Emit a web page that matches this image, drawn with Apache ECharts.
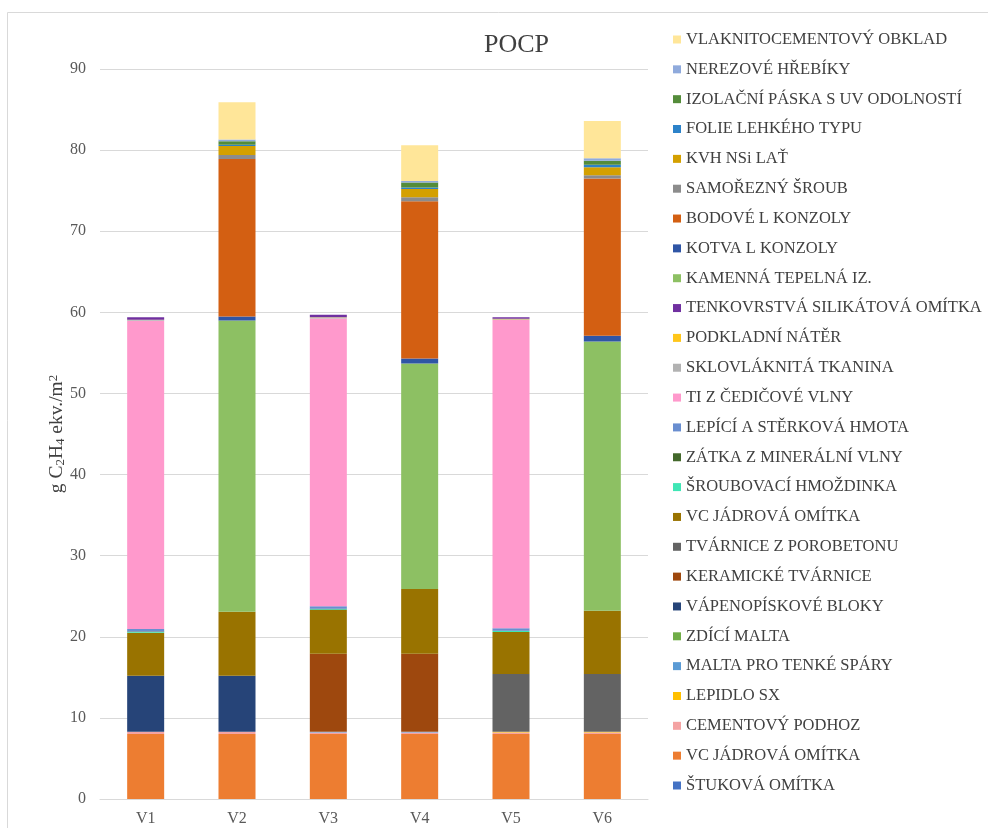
<!DOCTYPE html>
<html>
<head>
<meta charset="utf-8">
<script src="https://cdn.jsdelivr.net/npm/echarts@6/dist/echarts.min.js"></script>
<style>
  html, body { margin: 0; padding: 0; background: #fff; }
  #chart { width: 988px; height: 828px; }
</style>
</head>
<body>
<div id="chart"></div>
<script>
// Wall variants V1–V6
const categories = ['V1', 'V2', 'V3', 'V4', 'V5', 'V6'];

// POCP contribution of each layer, g C2H4 ekv./m2 (bottom of the stack first)
const stukovaOmitka        = [0, 0, 0, 0, 0, 0];
const vcJadrovaOmitkaSpod  = [8.0, 8.0, 8.0, 8.0, 8.0, 8.0];
const cementovyPodhoz      = [0.3, 0.3, 0.2, 0.2, 0.2, 0.2];
const lepidloSX            = [0, 0, 0, 0, 0.1, 0.1];
const maltaTenkeSpary      = [0, 0, 0.1, 0.1, 0, 0];
const zdiciMalta           = [0, 0, 0, 0, 0, 0];
const vapenopiskoveBloky   = [6.9, 6.9, 0, 0, 0, 0];
const keramickeTvarnice    = [0, 0, 9.6, 9.6, 0, 0];
const tvarnicePorobeton    = [0, 0, 0, 0, 7.1, 7.1];
const vcJadrovaOmitkaVnej  = [5.3, 7.9, 5.4, 8.0, 5.2, 7.8];
const sroubovaciHmozdinka  = [0.1, 0, 0.1, 0, 0.1, 0];
const zatkaMinVlna         = [0.05, 0, 0.05, 0, 0.05, 0];
const lepiciSterkova       = [0.3, 0, 0.3, 0, 0.3, 0];
const tiCedicovaVlna       = [38.0, 0, 35.5, 0, 38.0, 0];
const sklovlaknitaTkanina  = [0.1, 0, 0.1, 0, 0.1, 0];
const podkladniNater       = [0.05, 0, 0.05, 0, 0.05, 0];
const tenkovrstvaOmitka    = [0.3, 0, 0.3, 0, 0.2, 0];
const kamennaTepelnaIz     = [0, 35.9, 0, 27.8, 0, 33.2];
const kotvaLKonzoly        = [0, 0.5, 0, 0.6, 0, 0.7];
const bodoveLKonzoly       = [0, 19.4, 0, 19.4, 0, 19.4];
const samoreznySroub       = [0, 0.5, 0, 0.5, 0, 0.4];
const kvhLat               = [0, 1.1, 0, 1.0, 0, 1.0];
const folieLehka           = [0, 0.15, 0, 0.2, 0, 0.3];
const izolacniPaska        = [0, 0.45, 0, 0.6, 0, 0.5];
const nerezoveHrebiky      = [0, 0.2, 0, 0.2, 0, 0.3];
const vlaknocementObklad   = [0, 4.6, 0, 4.4, 0, 4.6];

// Axis ticks
const yTicks = { min: 0, max: 90, interval: 10 };

// Layer names (the two plaster layers share a label; a trailing space keeps them apart)
const layers = [
  ['ŠTUKOVÁ OMÍTKA', stukovaOmitka, '#4472C4'],
  ['VC JÁDROVÁ OMÍTKA', vcJadrovaOmitkaSpod, '#ED7D31'],
  ['CEMENTOVÝ PODHOZ', cementovyPodhoz, '#F4A3A3'],
  ['LEPIDLO SX', lepidloSX, '#FFC000'],
  ['MALTA PRO TENKÉ SPÁRY', maltaTenkeSpary, '#5B9BD5'],
  ['ZDÍCÍ MALTA', zdiciMalta, '#70AD47'],
  ['VÁPENOPÍSKOVÉ BLOKY', vapenopiskoveBloky, '#264478'],
  ['KERAMICKÉ TVÁRNICE', keramickeTvarnice, '#9E480E'],
  ['TVÁRNICE Z POROBETONU', tvarnicePorobeton, '#636363'],
  ['VC JÁDROVÁ OMÍTKA ', vcJadrovaOmitkaVnej, '#997300'],
  ['ŠROUBOVACÍ HMOŽDINKA', sroubovaciHmozdinka, '#3FE6B5'],
  ['ZÁTKA Z MINERÁLNÍ VLNY', zatkaMinVlna, '#43682B'],
  ['LEPÍCÍ A STĚRKOVÁ HMOTA', lepiciSterkova, '#698ED0'],
  ['TI Z ČEDIČOVÉ VLNY', tiCedicovaVlna, '#FF99CC'],
  ['SKLOVLÁKNITÁ TKANINA', sklovlaknitaTkanina, '#B2B2B2'],
  ['PODKLADNÍ NÁTĚR', podkladniNater, '#FFC61A'],
  ['TENKOVRSTVÁ SILIKÁTOVÁ OMÍTKA', tenkovrstvaOmitka, '#7030A0'],
  ['KAMENNÁ TEPELNÁ IZ.', kamennaTepelnaIz, '#8DC063'],
  ['KOTVA L KONZOLY', kotvaLKonzoly, '#2F55A5'],
  ['BODOVÉ L KONZOLY', bodoveLKonzoly, '#D35F12'],
  ['SAMOŘEZNÝ ŠROUB', samoreznySroub, '#8C8C8C'],
  ['KVH NSi LAŤ', kvhLat, '#D4A000'],
  ['FOLIE LEHKÉHO TYPU', folieLehka, '#2C82C9'],
  ['IZOLAČNÍ PÁSKA S UV ODOLNOSTÍ', izolacniPaska, '#548C3A'],
  ['NEREZOVÉ HŘEBÍKY', nerezoveHrebiky, '#8FAADC'],
  ['VLAKNITOCEMENTOVÝ OBKLAD', vlaknocementObklad, '#FFE699']
];

const serif = '"Liberation Serif", "DejaVu Serif", serif';

const series = layers.map(([name, data, color]) => ({
  name: name,
  type: 'bar',
  stack: 'pocp',
  barWidth: 37,
  data: data,
  itemStyle: { color: color },
  emphasis: { disabled: true }
}));

const chart = echarts.init(document.getElementById('chart'), null, { renderer: 'canvas' });
chart.setOption({
  animation: false,
  backgroundColor: '#ffffff',
  title: {
    text: 'POCP',
    left: 479,
    top: 27,
    textStyle: { fontFamily: serif, fontSize: 26, fontWeight: 'normal', color: '#404040' }
  },
  graphic: [{
    type: 'rect',
    shape: { x: 7.5, y: 12.5, width: 1100, height: 1100 },
    style: { fill: 'none', stroke: '#D9D9D9', lineWidth: 1 },
    silent: true,
    z: -1
  }],
  legend: {
    orient: 'vertical',
    left: 668,
    top: 26,
    itemWidth: 8,
    itemHeight: 8,
    itemGap: 12.84,
    icon: 'rect',
    data: layers.map(l => l[0]).reverse(),
    textStyle: { fontFamily: serif, fontSize: 16.5, color: '#404040', lineHeight: 16 }
  },
  grid: { left: 100, right: 340, top: 69, bottom: 29 },
  xAxis: {
    type: 'category',
    data: categories,
    axisLine: { lineStyle: { color: '#D9D9D9', width: 1 } },
    axisTick: { show: false },
    axisLabel: { fontFamily: serif, fontSize: 16, color: '#595959', margin: 12 }
  },
  yAxis: {
    type: 'value',
    min: yTicks.min,
    max: yTicks.max,
    interval: yTicks.interval,
    name: '{n|g C}{s|2}{n|H}{s|4}{n| ekv./m}{p|2}',
    nameLocation: 'middle',
    nameGap: 33,
    nameMoveOverlap: false,
    nameTextStyle: {
      fontFamily: serif,
      color: '#404040',
      rich: {
        n: { fontFamily: serif, fontSize: 19.5, color: '#404040', verticalAlign: 'middle', lineHeight: 20 },
        s: { fontFamily: serif, fontSize: 13, color: '#404040', verticalAlign: 'bottom', lineHeight: 20 },
        p: { fontFamily: serif, fontSize: 13, color: '#404040', verticalAlign: 'top', lineHeight: 20 }
      }
    },
    axisLine: { show: false },
    axisTick: { show: false },
    splitLine: { lineStyle: { color: '#D9D9D9', width: 1 } },
    axisLabel: { fontFamily: serif, fontSize: 16, color: '#595959', margin: 14 }
  },
  series: series
});
</script>
</body>
</html>
